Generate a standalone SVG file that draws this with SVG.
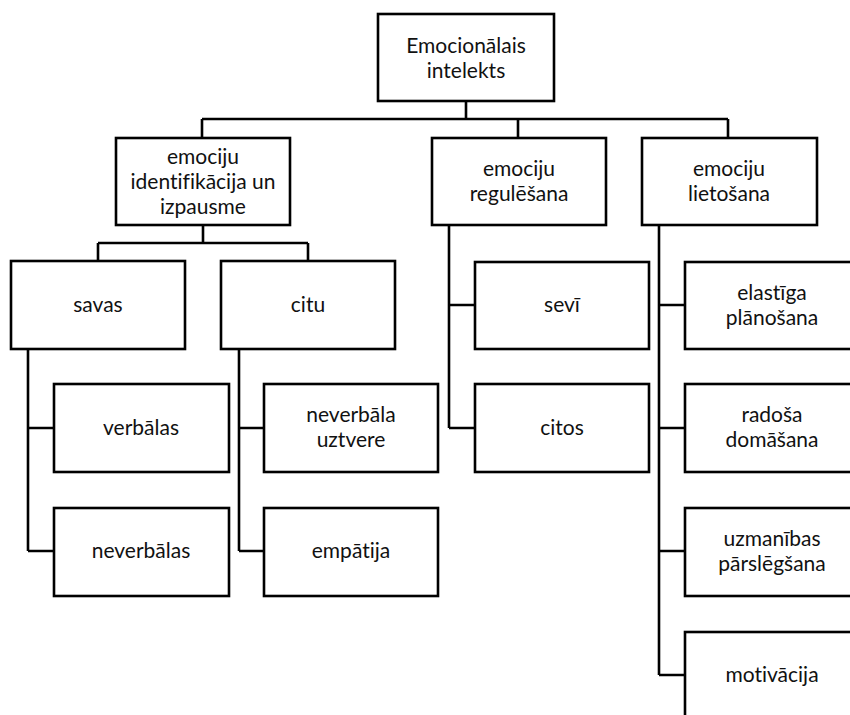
<svg xmlns="http://www.w3.org/2000/svg" width="850" height="715" viewBox="0 0 850 715">
<style>
.box{fill:#fff;stroke:#000;stroke-width:2.6}
.ln{fill:none;stroke:#000;stroke-width:2.6}
text{font-family:Lato,"Liberation Sans",sans-serif;font-size:21px;font-variant-ligatures:none;fill:#111;text-anchor:middle}
</style>
<rect width="850" height="715" fill="#fff"/>
<g id="connectors" class="ln">
<path d="M466,101V119M202,119H728M202,119V138M518,119V138M728,119V138"/>
<path d="M203,225V243M98,243H308M98,243V261M308,243V261"/>
<path d="M28,349V551M28,428H54M28,551H54"/>
<path d="M239,349V551M239,428H264M239,551H264"/>
<path d="M449,225V428M449,305H475M449,428H475"/>
<path d="M659,225V675M659,305H685M659,428H685M659,551H685M659,675H685"/>
</g>
<g id="root"><rect class="box" x="378" y="14" width="176" height="87"/><text x="466" y="53">Emocionālais</text><text x="466" y="78">intelekts</text></g>
<g id="identifikacija"><rect class="box" x="116" y="138" width="174" height="87"/><text x="203" y="164">emociju</text><text x="203" y="189">identifikācija un</text><text x="203" y="214">izpausme</text></g>
<g id="regulesana"><rect class="box" x="432" y="138" width="174" height="87"/><text x="519" y="176">emociju</text><text x="519" y="201">regulēšana</text></g>
<g id="lietosana"><rect class="box" x="642" y="138" width="175" height="87"/><text x="729" y="176">emociju</text><text x="729" y="201">lietošana</text></g>
<g id="savas"><rect class="box" x="11" y="261" width="174" height="88"/><text x="98" y="312">savas</text></g>
<g id="citu"><rect class="box" x="221" y="261" width="174" height="88"/><text x="308" y="312">citu</text></g>
<g id="sevi"><rect class="box" x="475" y="262" width="174" height="87"/><text x="562" y="312">sevī</text></g>
<g id="elastiga"><rect class="box" x="685" y="262" width="174" height="87"/><text x="772" y="300">elastīga</text><text x="772" y="325">plānošana</text></g>
<g id="verbalas"><rect class="box" x="54" y="384" width="175" height="88"/><text x="141" y="435">verbālas</text></g>
<g id="neverbala-uztvere"><rect class="box" x="264" y="384" width="174" height="88"/><text x="351" y="422">neverbāla</text><text x="351" y="447">uztvere</text></g>
<g id="citos"><rect class="box" x="475" y="384" width="174" height="88"/><text x="562" y="435">citos</text></g>
<g id="radosa"><rect class="box" x="685" y="384" width="174" height="88"/><text x="772" y="422">radoša</text><text x="772" y="447">domāšana</text></g>
<g id="neverbalas"><rect class="box" x="54" y="508" width="175" height="88"/><text x="141" y="558">neverbālas</text></g>
<g id="empatija"><rect class="box" x="264" y="508" width="174" height="88"/><text x="351" y="558">empātija</text></g>
<g id="uzmanibas"><rect class="box" x="685" y="508" width="174" height="88"/><text x="772" y="546">uzmanības</text><text x="772" y="571">pārslēgšana</text></g>
<g id="motivacija"><rect class="box" x="685" y="632" width="174" height="100"/><text x="772" y="682">motivācija</text></g>
</svg>
